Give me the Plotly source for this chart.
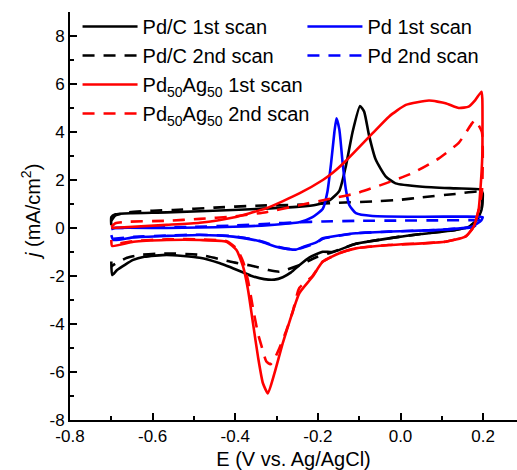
import plotly.graph_objects as go

# ---------------- data ----------------
pdc1_E = [-0.700, -0.700, -0.690, -0.650, -0.566, -0.406, -0.245, -0.204, -0.172, -0.148, -0.132,
          -0.116, -0.098, -0.088, -0.076, -0.060, -0.036, -0.012, 0.053, 0.133, 0.193,
          0.199, 0.196, 0.185, 0.165, 0.133, 0.050, -0.004, -0.108, -0.164, -0.188, -0.220,
          -0.245, -0.265, -0.285, -0.305, -0.330, -0.360, -0.385, -0.437, -0.486, -0.566,
          -0.620, -0.647, -0.686, -0.698, -0.700]
pdc1_j = [0.12, 0.45, 0.57, 0.62, 0.65, 0.75, 0.89, 0.97, 1.15, 1.55, 2.60,
          4.00, 5.08, 4.85, 3.85, 2.85, 2.15, 1.86, 1.72, 1.65, 1.60,
          1.44, 0.75, 0.33, 0.05, -0.08, -0.25, -0.37, -0.66, -1.00, -0.99, -1.22,
          -1.55, -1.85, -2.05, -2.15, -2.13, -2.00, -1.82, -1.47, -1.24, -1.12,
          -1.20, -1.33, -1.75, -1.96, -1.40]

pdc2_E = [-0.700, -0.690, -0.660, -0.600, -0.550, -0.450, -0.350, -0.250, -0.150, -0.050, -0.004,
          0.053, 0.133, 0.190,
          0.198, 0.196, 0.185, 0.165, 0.133, 0.050, -0.004, -0.108, -0.164, -0.204, -0.245,
          -0.293, -0.320, -0.358, -0.405, -0.486, -0.566, -0.630, -0.662, -0.686, -0.700]
pdc2_j = [0.30, 0.52, 0.65, 0.72, 0.75, 0.85, 0.93, 0.97, 1.05, 1.12, 1.17,
          1.28, 1.42, 1.52,
          1.40, 0.75, 0.33, 0.05, -0.08, -0.25, -0.37, -0.66, -1.00, -1.22, -1.55,
          -1.82, -1.75, -1.58, -1.43, -1.12, -1.06, -1.12, -1.24, -1.45, -1.60]

pd1_E = [-0.700, -0.690, -0.566, -0.486, -0.405, -0.320, -0.245, -0.213, -0.188, -0.177, -0.168,
         -0.160, -0.155, -0.148, -0.140, -0.132, -0.124, -0.108, -0.068, 0.053, 0.193,
         0.199, 0.196, 0.173, 0.093, -0.028, -0.108, -0.188, -0.204, -0.237, -0.253, -0.270,
         -0.301, -0.341, -0.405, -0.486, -0.566, -0.646, -0.695, -0.700]
pd1_j = [-0.05, 0.00, 0.00, 0.02, 0.05, 0.12, 0.24, 0.45, 0.80, 1.50, 2.70,
         4.00, 4.57, 4.10, 2.70, 1.58, 0.96, 0.62, 0.50, 0.47, 0.47,
         0.45, 0.33, 0.05, -0.08, -0.15, -0.22, -0.43, -0.60, -0.80, -0.90, -0.88,
         -0.78, -0.55, -0.36, -0.29, -0.33, -0.39, -0.50, -0.30]

pd2_E = [-0.700, -0.600, -0.500, -0.405, -0.320, -0.245, -0.188, -0.100, 0.000, 0.100, 0.185,
         0.196, 0.181, 0.173, 0.093, -0.028, -0.108, -0.188, -0.204, -0.237, -0.253, -0.277,
         -0.301, -0.341, -0.405, -0.486, -0.566, -0.646, -0.695]
pd2_j = [0.00, 0.02, 0.05, 0.10, 0.18, 0.24, 0.27, 0.30, 0.31, 0.32, 0.33,
         0.33, 0.10, 0.03, -0.08, -0.15, -0.22, -0.45, -0.62, -0.82, -0.88, -0.86,
         -0.76, -0.53, -0.34, -0.28, -0.31, -0.37, -0.45]

pdag1_E = [-0.700, -0.566, -0.486, -0.405, -0.325, -0.245, -0.188, -0.164, -0.132, -0.068,
           -0.028, 0.013, 0.069, 0.109, 0.141, 0.165, 0.181, 0.196,
           0.198, 0.198, 0.193, 0.189, 0.177, 0.157, 0.109, 0.053, -0.028, -0.108, -0.148,
           -0.188, -0.213, -0.245, -0.265, -0.285, -0.305, -0.321, -0.333, -0.345, -0.357,
           -0.369, -0.381, -0.397, -0.421, -0.486, -0.566, -0.646, -0.698, -0.700]
pdag1_j = [0.00, 0.13, 0.22, 0.44, 0.82, 1.44, 2.00, 2.30, 2.80, 3.94,
           4.64, 5.13, 5.31, 5.20, 5.00, 5.06, 5.33, 5.68,
           5.40, 3.00, 1.50, 0.75, 0.05, -0.36, -0.57, -0.64, -0.71, -0.85, -1.05,
           -1.40, -2.03, -2.72, -3.70, -4.80, -6.05, -6.89, -6.47, -5.36, -3.97,
           -2.58, -1.61, -0.92, -0.57, -0.50, -0.50, -0.57, -0.75, -0.50]

pdag2_E = [-0.700, -0.690, -0.662, -0.566, -0.486, -0.405, -0.325, -0.245, -0.164, -0.108, -0.036,
           0.028, 0.093, 0.141, 0.173, 0.180,
           0.197, 0.197, 0.189, 0.177, 0.157, 0.109, 0.053, -0.028, -0.108, -0.148, -0.188,
           -0.213, -0.245, -0.261, -0.277, -0.293, -0.305, -0.315, -0.325, -0.335, -0.345,
           -0.357, -0.369, -0.381, -0.397, -0.421, -0.486, -0.566, -0.646, -0.698]
pdag2_j = [0.05, 0.20, 0.26, 0.30, 0.38, 0.48, 0.66, 0.95, 1.24, 1.44, 1.86,
           2.28, 2.90, 3.55, 4.36, 4.50,
           4.00, 1.50, 0.75, 0.05, -0.36, -0.57, -0.64, -0.71, -0.85, -1.05, -1.40,
           -2.00, -2.50, -3.50, -4.30, -5.00, -5.45, -5.68, -5.55, -5.00, -4.40,
           -3.35, -2.20, -1.40, -0.85, -0.55, -0.47, -0.47, -0.55, -0.70]

x_tickvals = [-0.8, -0.6, -0.4, -0.2, 0.0, 0.2]
x_ticktext = ["-0.8", "-0.6", "-0.4", "-0.2", "0.0", "0.2"]
x_minorvals = [-0.7, -0.5, -0.3, -0.1, 0.1]
y_tickvals = [-8, -6, -4, -2, 0, 2, 4, 6, 8]
y_ticktext = ["-8", "-6", "-4", "-2", "0", "2", "4", "6", "8"]
y_minorvals = [-7, -5, -3, -1, 1, 3, 5, 7, 9]

# ---------------- figure ----------------
FONT = "Liberation Sans, Arial, sans-serif"
BLACK, BLUE, RED = "#000000", "#0000FF", "#FF0000"
DASH = "12px,9px"
LW = 2.6

series = [
    ("Pd/C 1st scan", pdc1_E, pdc1_j, BLACK, "solid", "legend"),
    ("Pd/C 2nd scan", pdc2_E, pdc2_j, BLACK, DASH, "legend"),
    ("Pd 1st scan", pd1_E, pd1_j, BLUE, "solid", "legend2"),
    ("Pd 2nd scan", pd2_E, pd2_j, BLUE, DASH, "legend2"),
    ("Pd<sub>50</sub>Ag<sub>50</sub> 1st scan", pdag1_E, pdag1_j, RED, "solid", "legend"),
    ("Pd<sub>50</sub>Ag<sub>50</sub> 2nd scan", pdag2_E, pdag2_j, RED, DASH, "legend"),
]

fig = go.Figure()
for name, xs, ys, col, dash, leg in series:
    fig.add_trace(go.Scatter(x=xs, y=ys, mode="lines", name=name, legend=leg,
                             line=dict(color=col, width=LW, dash=dash,
                                       shape="spline", smoothing=0.5)))

axis_common = dict(showline=True, linecolor="black", linewidth=2, ticks="inside",
                   ticklen=7, tickwidth=2, tickcolor="black", showgrid=False,
                   zeroline=False, mirror=False, tickmode="array", automargin=False,
                   tickfont=dict(family=FONT, size=17, color="black"))

fig.update_layout(
    width=517, height=470,
    margin=dict(l=70, r=0, t=12, b=50, autoexpand=False),
    paper_bgcolor="white", plot_bgcolor="white",
    font=dict(family=FONT, color="black"),
    xaxis=dict(range=[-0.8, 0.282], tickvals=x_tickvals, ticktext=x_ticktext,
               minor=dict(tickmode="array", tickvals=x_minorvals, ticks="inside", ticklen=4,
                          tickwidth=2, tickcolor="black", showgrid=False),
               title=dict(text="E (V vs. Ag/AgCl)", font=dict(size=20, family=FONT)),
               **axis_common),
    yaxis=dict(range=[-8, 9], tickvals=y_tickvals, ticktext=y_ticktext,
               minor=dict(tickmode="array", tickvals=y_minorvals, ticks="inside", ticklen=4,
                          tickwidth=2, tickcolor="black", showgrid=False),
               **axis_common),
    annotations=[dict(text="<i>j</i> (mA/cm<sup>2</sup>)", xref="paper", yref="paper",
                      x=-0.087, y=0.51, xanchor="center", yanchor="middle",
                      textangle=-90, showarrow=False,
                      font=dict(size=20, family=FONT, color="black"))],
    legend=dict(xref="container", yref="container", x=0.15, y=0.985,
                xanchor="left", yanchor="top", bgcolor="rgba(0,0,0,0)",
                font=dict(size=20, family=FONT), tracegroupgap=0, itemwidth=55),
    legend2=dict(xref="container", yref="container", x=0.585, y=0.985,
                 xanchor="left", yanchor="top", bgcolor="rgba(0,0,0,0)",
                 font=dict(size=20, family=FONT), tracegroupgap=0, itemwidth=55),
)

fig.write_html("out.html")
